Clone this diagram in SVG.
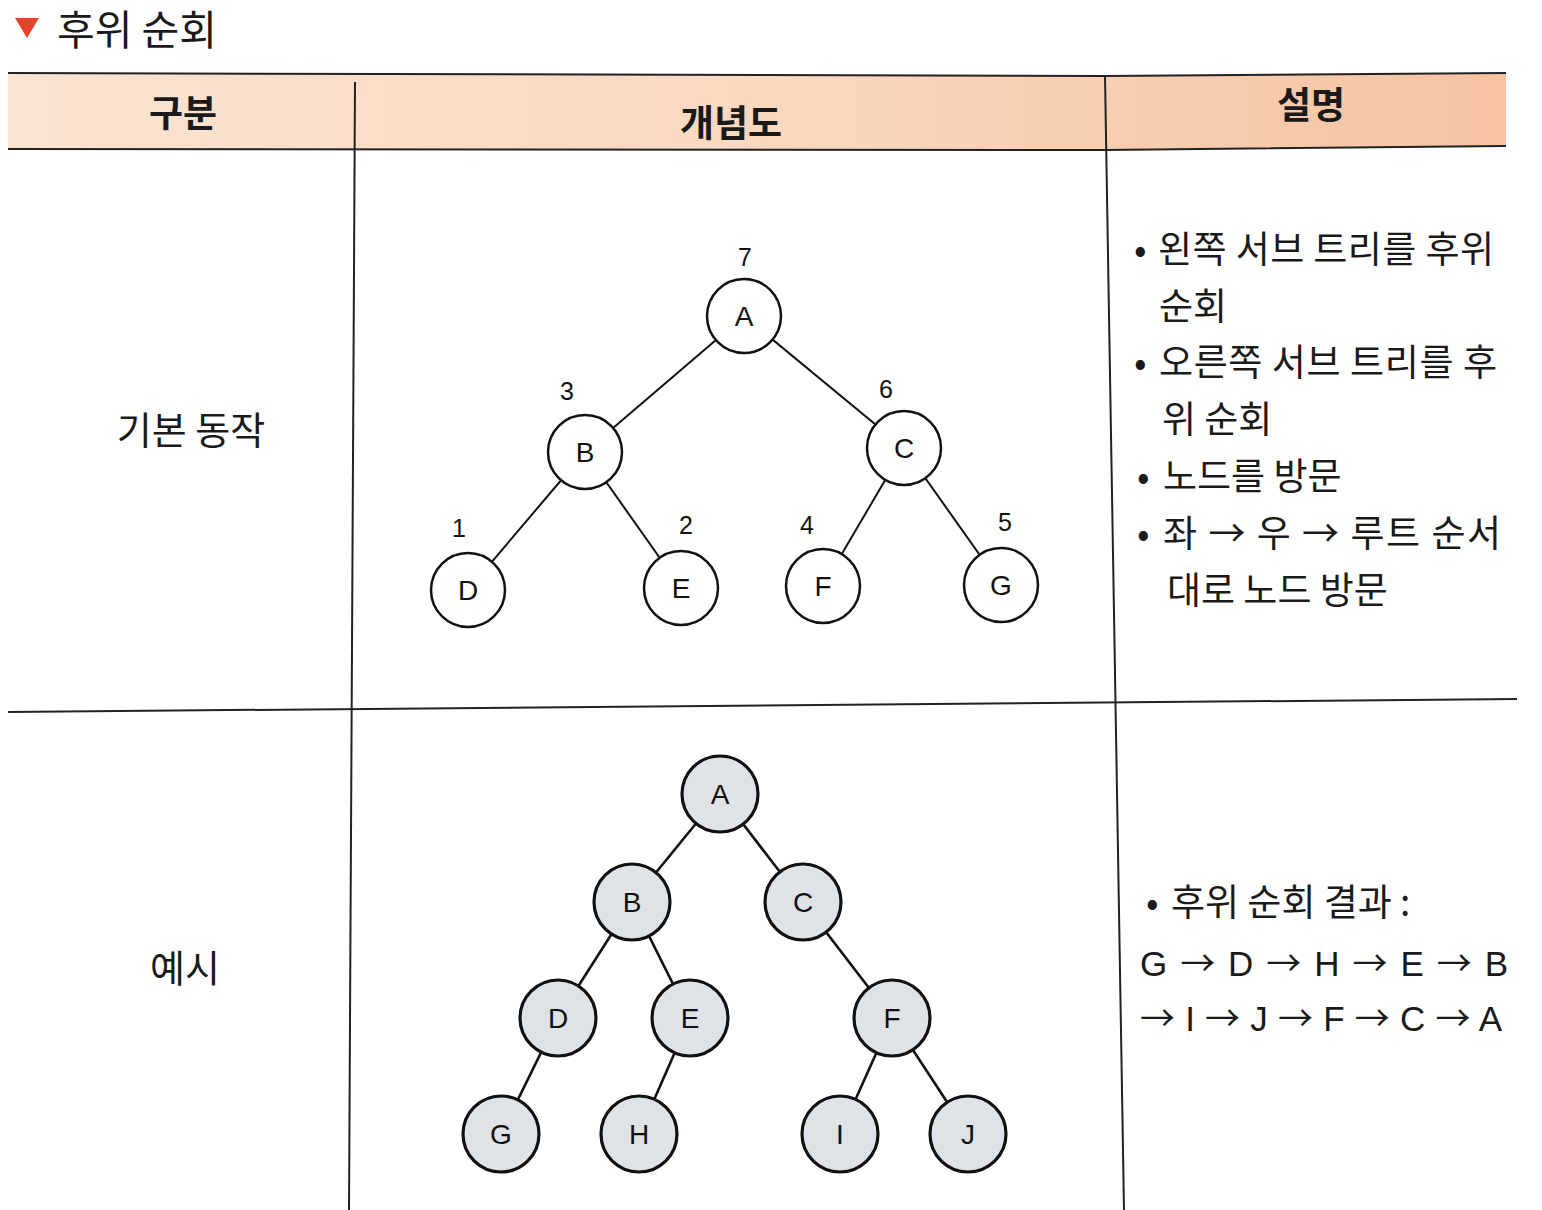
<svg xmlns="http://www.w3.org/2000/svg" width="1542" height="1210" viewBox="0 0 1542 1210">
<style>
.kr{font-family:"Noto Sans CJK KR","Noto Sans",sans-serif;fill:#1a1a1a}
.hd{font-family:"Noto Sans CJK KR",sans-serif;font-weight:bold;font-size:37px;fill:#1a1a1a;text-anchor:middle}
.lat{font-family:"Liberation Sans",Arial,sans-serif;fill:#1a1a1a}
.ar{font-family:"Noto Sans CJK KR",sans-serif}
.n1{fill:#fff;stroke:#111;stroke-width:2.5}
.n2{fill:#dfe2e6;stroke:#111;stroke-width:3.2}
.nl{font-family:"Liberation Sans",Arial,sans-serif;font-size:28px;fill:#111;text-anchor:middle}
.num{font-family:"Liberation Sans",Arial,sans-serif;font-size:25px;fill:#111;text-anchor:middle}
.e1{stroke:#111;stroke-width:2}
.e2{stroke:#111;stroke-width:2.6}
.grid{stroke:#222;stroke-width:2;fill:none}
</style>
<defs>
<linearGradient id="hg" x1="0" y1="0" x2="1" y2="0">
<stop offset="0" stop-color="#fbe4d2"/>
<stop offset="0.5" stop-color="#f9d8bf"/>
<stop offset="1" stop-color="#f5c3a2"/>
</linearGradient>
</defs>
<rect width="1542" height="1210" fill="#fff"/>
<g id="title">
<polygon points="15,18 39,18 27,38" fill="#e8432a"/>
<text class="kr" x="57" y="45" font-size="41">후위 순회</text>
</g>
<g id="table">
<polygon points="8,73 1105,76 1506,73 1506,146 1105,150 8,149" fill="url(#hg)"/>
<polyline class="grid" points="8,73 1105,76 1506,73"/>
<polyline class="grid" points="8,149 1105,150 1506,146"/>
<line class="grid" x1="355" y1="82" x2="349" y2="1210"/>
<line class="grid" x1="1105" y1="76" x2="1124" y2="1210"/>
<line class="grid" x1="8" y1="712" x2="1517" y2="699"/>
<text class="hd" x="183" y="127">구분</text>
<text class="hd" x="731" y="137">개념도</text>
<text class="hd" x="1311" y="119">설명</text>
<text class="kr" x="191" y="444" font-size="38" text-anchor="middle">기본 동작</text>
<text class="kr" x="185" y="982" font-size="38" text-anchor="middle">예시</text>
</g>
<g id="connectors">
<line class="e1" x1="744" y1="316" x2="585" y2="452"/>
<line class="e1" x1="744" y1="316" x2="904" y2="448"/>
<line class="e1" x1="585" y1="452" x2="468" y2="590"/>
<line class="e1" x1="585" y1="452" x2="681" y2="588"/>
<line class="e1" x1="904" y1="448" x2="823" y2="586"/>
<line class="e1" x1="904" y1="448" x2="1001" y2="585"/>
<line class="e2" x1="720" y1="794" x2="632" y2="902"/>
<line class="e2" x1="720" y1="794" x2="803" y2="902"/>
<line class="e2" x1="632" y1="902" x2="558" y2="1018"/>
<line class="e2" x1="632" y1="902" x2="690" y2="1018"/>
<line class="e2" x1="803" y1="902" x2="892" y2="1018"/>
<line class="e2" x1="558" y1="1018" x2="501" y2="1134"/>
<line class="e2" x1="690" y1="1018" x2="639" y2="1134"/>
<line class="e2" x1="892" y1="1018" x2="840" y2="1134"/>
<line class="e2" x1="892" y1="1018" x2="968" y2="1134"/>
</g>
<g id="t1-A"><circle class="n1" cx="744" cy="316" r="37"/><text class="nl" x="744" y="326">A</text><text class="num" x="745" y="266">7</text></g>
<g id="t1-B"><circle class="n1" cx="585" cy="452" r="37"/><text class="nl" x="585" y="462">B</text><text class="num" x="567" y="400">3</text></g>
<g id="t1-C"><circle class="n1" cx="904" cy="448" r="37"/><text class="nl" x="904" y="458">C</text><text class="num" x="886" y="398">6</text></g>
<g id="t1-D"><circle class="n1" cx="468" cy="590" r="37"/><text class="nl" x="468" y="600">D</text><text class="num" x="459" y="537">1</text></g>
<g id="t1-E"><circle class="n1" cx="681" cy="588" r="37"/><text class="nl" x="681" y="598">E</text><text class="num" x="686" y="534">2</text></g>
<g id="t1-F"><circle class="n1" cx="823" cy="586" r="37"/><text class="nl" x="823" y="596">F</text><text class="num" x="807" y="534">4</text></g>
<g id="t1-G"><circle class="n1" cx="1001" cy="585" r="37"/><text class="nl" x="1001" y="595">G</text><text class="num" x="1005" y="531">5</text></g>
<g id="t2-A"><circle class="n2" cx="720" cy="794" r="38"/><text class="nl" x="720" y="804">A</text></g>
<g id="t2-B"><circle class="n2" cx="632" cy="902" r="38"/><text class="nl" x="632" y="912">B</text></g>
<g id="t2-C"><circle class="n2" cx="803" cy="902" r="38"/><text class="nl" x="803" y="912">C</text></g>
<g id="t2-D"><circle class="n2" cx="558" cy="1018" r="38"/><text class="nl" x="558" y="1028">D</text></g>
<g id="t2-E"><circle class="n2" cx="690" cy="1018" r="38"/><text class="nl" x="690" y="1028">E</text></g>
<g id="t2-F"><circle class="n2" cx="892" cy="1018" r="38"/><text class="nl" x="892" y="1028">F</text></g>
<g id="t2-G"><circle class="n2" cx="501" cy="1134" r="38"/><text class="nl" x="501" y="1144">G</text></g>
<g id="t2-H"><circle class="n2" cx="639" cy="1134" r="38"/><text class="nl" x="639" y="1144">H</text></g>
<g id="t2-I"><circle class="n2" cx="840" cy="1134" r="38"/><text class="nl" x="840" y="1144">I</text></g>
<g id="t2-J"><circle class="n2" cx="968" cy="1134" r="38"/><text class="nl" x="968" y="1144">J</text></g>
<g id="desc1" class="kr" font-size="37">
<text x="1134" y="263">•</text>
<text x="1158" y="263" textLength="336" lengthAdjust="spacing">왼쪽 서브 트리를 후위</text>
<text x="1159" y="320">순회</text>
<text x="1134" y="376">•</text>
<text x="1159" y="376" textLength="338" lengthAdjust="spacing">오른쪽 서브 트리를 후</text>
<text x="1162" y="433">위 순회</text>
<text x="1137" y="490">•</text>
<text x="1163" y="490">노드를 방문</text>
<text x="1137" y="547">•</text>
<text x="1163" y="547" textLength="338" lengthAdjust="spacing">좌 → 우 → 루트 순서</text>
<text x="1167" y="604">대로 노드 방문</text>
</g>
<g id="desc2">
<text class="kr" font-size="37" x="1146" y="916">•</text>
<text class="kr" font-size="37" x="1171" y="916">후위 순회 결과 :</text>
<text class="lat" font-size="35" x="1140" y="976" textLength="368" lengthAdjust="spacing">G <tspan class="ar">→</tspan> D <tspan class="ar">→</tspan> H <tspan class="ar">→</tspan> E <tspan class="ar">→</tspan> B</text>
<text class="lat" font-size="35" x="1140" y="1031" textLength="362" lengthAdjust="spacing"><tspan class="ar">→</tspan> I <tspan class="ar">→</tspan> J <tspan class="ar">→</tspan> F <tspan class="ar">→</tspan> C <tspan class="ar">→</tspan> A</text>
</g>
</svg>
